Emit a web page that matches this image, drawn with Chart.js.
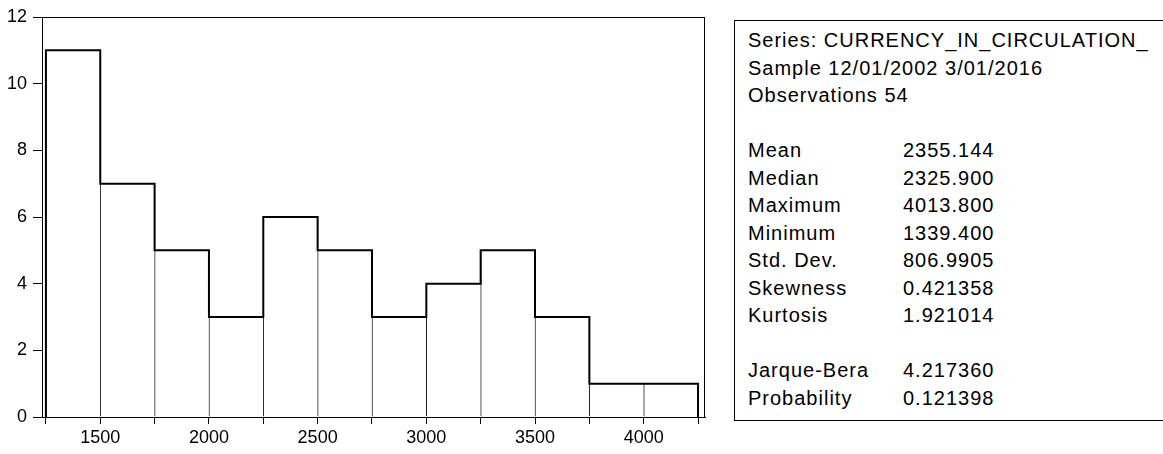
<!DOCTYPE html>
<html>
<head>
<meta charset="utf-8">
<script src="https://cdn.jsdelivr.net/npm/chart.js@4"></script>
<style>
  body { margin: 0; background: #fff; width: 1163px; height: 454px; overflow: hidden; position: relative; }
  #plotWrap { position: absolute; left: 0; top: 0; width: 720px; height: 454px; }
  #stats {
    position: absolute; left: 734px; top: 20px; width: 460px; height: 401px;
    border: 1px solid #000; box-sizing: border-box;
    font-family: "Liberation Sans", Arial, sans-serif; font-size: 20px; letter-spacing: 1px;
    line-height: 27.5px; color: #000; padding: 6px 0 0 13px;
  }
  #stats .row { height: 27.5px; white-space: nowrap; }
  #stats .lbl { display: inline-block; width: 155px; }
</style>
</head>
<body>
<div id="plotWrap"><canvas id="histo"></canvas></div>
<div id="stats"></div>
<script>
// histogram bins (width 250) and frequencies
const binStarts = [1250, 1500, 1750, 2000, 2250, 2500, 2750, 3000, 3250, 3500, 3750, 4000];
const binWidth = 250;
const counts = [11, 7, 5, 3, 6, 5, 3, 4, 5, 3, 1, 1];
const xLabels = [1500, 2000, 2500, 3000, 3500, 4000];

// summary statistics panel
const headerLines = ['Series: CURRENCY_IN_CIRCULATION_', 'Sample 12/01/2002 3/01/2016', 'Observations 54'];
const statNames = ['Mean', 'Median', 'Maximum', 'Minimum', 'Std. Dev.', 'Skewness', 'Kurtosis', '', 'Jarque-Bera', 'Probability'];
const statValues = ['2355.144', '2325.900', '4013.800', '1339.400', '806.9905', '0.421358', '1.921014', '', '4.217360', '0.121398'];

const statsBox = document.getElementById('stats');
const addRow = (a, b) => {
    const row = document.createElement('div');
    row.className = 'row';
    if (b === undefined) {
        row.textContent = a;
    } else {
        const l = document.createElement('span');
        l.className = 'lbl';
        l.textContent = a;
        const v = document.createElement('span');
        v.textContent = b;
        row.appendChild(l);
        row.appendChild(v);
    }
    statsBox.appendChild(row);
};
headerLines.forEach(t => addRow(t));
addRow('');
statNames.forEach((n, i) => addRow(n, statValues[i]));

// bars sit on bin centres; outline is a stepped line over the bin edges
const binEdges = binStarts.concat(binStarts[binStarts.length - 1] + binWidth);
const barPoints = binStarts.map((s, i) => ({ x: s + binWidth / 2, y: counts[i] }));
const outline = [{ x: binEdges[0], y: 0 }]
    .concat(binStarts.map((s, i) => ({ x: s, y: counts[i] })));
outline.push({ x: binEdges[binEdges.length - 1], y: counts[counts.length - 1] });
outline.push({ x: binEdges[binEdges.length - 1], y: 0 });

const frame = {
    id: 'frame',
    afterDraw(chart) {
        const { ctx, chartArea: a } = chart;
        ctx.save();
        ctx.strokeStyle = '#000';
        ctx.lineWidth = 1;
        ctx.strokeRect(Math.round(a.left) + 0.5, Math.round(a.top) + 0.5,
            Math.round(a.right - a.left) - 1, Math.round(a.bottom - a.top));
        ctx.restore();
    }
};

const tickFont = { family: '"Liberation Sans", Arial, sans-serif', size: 18 };

new Chart(document.getElementById('histo'), {
    type: 'bar',
    data: {
        datasets: [
            {
                type: 'line',
                data: outline,
                stepped: 'before',
                borderColor: '#000',
                borderWidth: 2,
                pointRadius: 0,
                fill: false
            },
            {
                data: barPoints,
                backgroundColor: '#fff',
                borderColor: '#222',
                borderWidth: { left: 1, top: 0, right: 0, bottom: 0 },
                borderSkipped: false,
                barPercentage: 1,
                categoryPercentage: 1
            }
        ]
    },
    options: {
        responsive: true,
        maintainAspectRatio: false,
        animation: false,
        layout: { padding: { top: 17, right: 15, left: 0, bottom: 0 } },
        plugins: {
            legend: { display: false },
            tooltip: { enabled: false }
        },
        scales: {
            x: {
                type: 'linear',
                min: 1232,
                max: 4282,
                offset: false,
                afterBuildTicks(scale) {
                    scale.ticks = binEdges.map(v => ({ value: v }));
                },
                afterFit(scale) { scale.height = 37; },
                ticks: {
                    autoSkip: false,
                    maxRotation: 0,
                    color: '#000',
                    font: tickFont,
                    padding: 3,
                    callback: v => xLabels.includes(v) ? String(v) : ''
                },
                grid: { offset: false, drawOnChartArea: false, drawTicks: true, tickLength: 7, color: '#000' },
                border: { display: true, color: '#000', width: 1 }
            },
            y: {
                min: 0,
                max: 12,
                afterFit(scale) { scale.width = 42; },
                ticks: { stepSize: 2, color: '#000', font: tickFont, padding: 6 },
                grid: { drawOnChartArea: false, drawTicks: true, tickLength: 9, color: '#000' },
                border: { display: true, color: '#000', width: 1 }
            }
        }
    },
    plugins: [frame]
});
</script>
</body>
</html>
